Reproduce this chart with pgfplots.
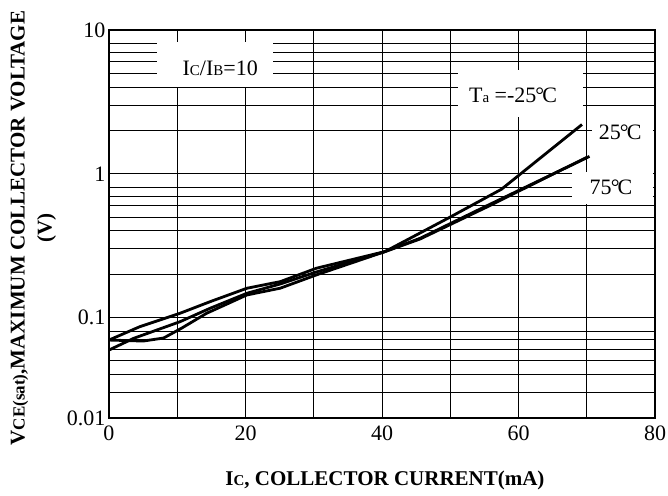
\documentclass[border=0pt]{standalone}
\usepackage{fontspec}
\setmainfont{Liberation Serif}
\usepackage{pgfplots}
\pgfplotsset{compat=1.18}

\begin{document}
\begin{tikzpicture}[x=1pt,y=1pt]
\path[use as bounding box] (-109,-77) rectangle (559,418);
\begin{axis}[
    at={(0,0)}, anchor=south west,
    scale only axis, width=546pt, height=388pt,
    xmin=0, xmax=80,
    ymode=log, ymin=0.02, ymax=10,
    xtick={0,20,40,60,80}, xticklabels={0,20,40,60,80},
    minor xtick={10,30,50,70},
    ytick={0.02,0.1,1,10}, yticklabels={0.01,0.1,1,10},
    minor ytick={0.03,0.04,0.05,0.06,0.07,0.08,0.2,0.3,0.4,0.5,0.6,0.7,0.8,2,3,4,5,6,7,8},
    grid=both,
    major grid style={black, line width=1pt},
    minor grid style={black, line width=1pt},
    tick style={draw=none},
    axis line style={line width=2.2pt},
    ticklabel style={font=\fontsize{22}{24}\selectfont},
    xticklabel style={yshift=-4pt},
    /pgf/number format/assume math mode=true,
    clip=false,
]
% upper end (25C)
\addplot[black, line width=2.8pt, line join=round] coordinates {
    (0,0.0697) (5,0.0686) (8,0.072) (10.6,0.0841) (14.3,0.107) (20.2,0.1435)
    (25.1,0.160) (30.4,0.198) (40.4,0.287) (50,0.50) (57.5,0.78) (69.3,2.2)
};
% lower end (75C)
\addplot[black, line width=2.8pt, line join=round] coordinates {
    (0,0.0697) (4.5,0.0863) (10.4,0.107) (14.8,0.1288) (20.2,0.1598)
    (25.1,0.1777) (30.4,0.2203) (40.4,0.2873) (45.6,0.356) (55.3,0.597) (70.4,1.32)
};
% -25C
\addplot[black, line width=2.8pt, line join=round] coordinates {
    (0,0.0594) (3.6,0.0716) (10.4,0.0935) (14.8,0.1159) (20.2,0.1474)
    (25.1,0.1712) (30.4,0.2075) (40.4,0.287) (45.6,0.352) (55.3,0.585) (70,1.30)
};

\fill[white] (axis cs:7,8.2) rectangle (axis cs:24,4.04);
\node[font=\fontsize{22}{24}\selectfont] at (axis cs:16.3,5.45)
    {I{\fontsize{15}{15}\selectfont C}/I{\fontsize{15}{15}\selectfont B}=10};

\fill[white] (axis cs:51.1,5.31) rectangle (axis cs:69.5,2.49);
\node[font=\fontsize{22}{24}\selectfont] at (axis cs:59.2,3.5)
    {T{\fontsize{15}{15}\selectfont a} =-25\kern-1pt\textdegree\kern-2pt C};

\fill[white] (axis cs:70.8,2.455) rectangle (axis cs:79.7,1.47);
\node[font=\fontsize{22}{24}\selectfont] at (axis cs:74.9,1.93)
    {25\kern-1pt\textdegree\kern-2pt C};

\fill[white] (axis cs:67.8,1.033) rectangle (axis cs:79.7,0.618);
\node[font=\fontsize{22}{24}\selectfont] at (axis cs:73.55,0.8)
    {75\kern-1pt\textdegree\kern-2pt C};
\end{axis}

\node[rotate=90, align=center, font=\bfseries\fontsize{21}{27}\selectfont]
    at (-75.5,190) {V{\fontsize{17}{17}\selectfont CE(sat)},MAXIMUM COLLECTOR VOLTAGE\\(V)};
\node[font=\bfseries\fontsize{21}{25}\selectfont] at (276,-62)
    {I{\fontsize{15}{15}\selectfont C}, COLLECTOR CURRENT(mA)};
\end{tikzpicture}
\end{document}
